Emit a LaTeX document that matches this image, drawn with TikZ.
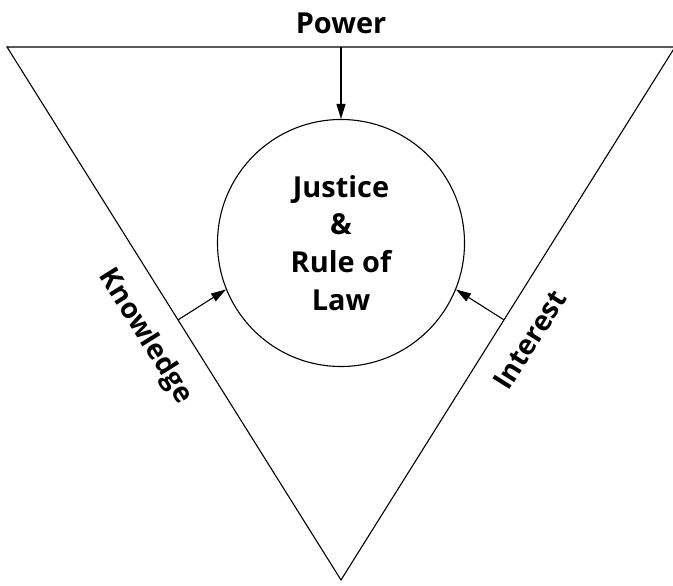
\documentclass[tikz,border=0pt]{standalone}
\usepackage{fontspec}
\setmainfont{Open Sans}
\usetikzlibrary{arrows.meta}

\begin{document}
\begin{tikzpicture}[
    x=1bp, y=1bp,
    edge/.style={line width=1.1bp},
    core/.style={circle, draw, line width=1.1bp, minimum size=247bp, inner sep=0pt, align=center, font=\fontsize{29}{38}\selectfont\bfseries},
    sidetext/.style={font=\fontsize{28}{34}\selectfont\bfseries},
    arrow/.style={-{Triangle[length=15bp, width=9bp]}, line width=1.1bp}
]
    \useasboundingbox (0,0) rectangle (673,586);

    % Triangle
    \coordinate (tl) at (7,539);
    \coordinate (tr) at (675,539);
    \coordinate (bot) at (341,6);
    \draw[edge] (tl) -- (tr) -- (bot) -- cycle;

    % Nodes
    \node[core] (law) at (341,343) {Justice\\\&\\Rule of\\Law};
    \node[sidetext, font=\fontsize{29}{34}\selectfont\bfseries] (power) at (341,563) {Power};
    \path (tl) -- (bot) node[pos=0.507, sloped, below=19bp, sidetext] (know) {Knowledge};
    \path (bot) -- (tr) node[pos=0.483, sloped, below=19bp, sidetext] (inter) {Interest};

    % Feet of the arrows
    \path (tl) -- (bot) coordinate[pos=0.512] (kfoot);
    \path (bot) -- (tr) coordinate[pos=0.488] (ifoot);
    \coordinate (pfoot) at (341,539);

    % Arrows
    \draw[arrow] (pfoot) -- (law.north);
    \draw[arrow] (kfoot) -- (law.202);
    \draw[arrow] (ifoot) -- (law.338);
\end{tikzpicture}
\end{document}
